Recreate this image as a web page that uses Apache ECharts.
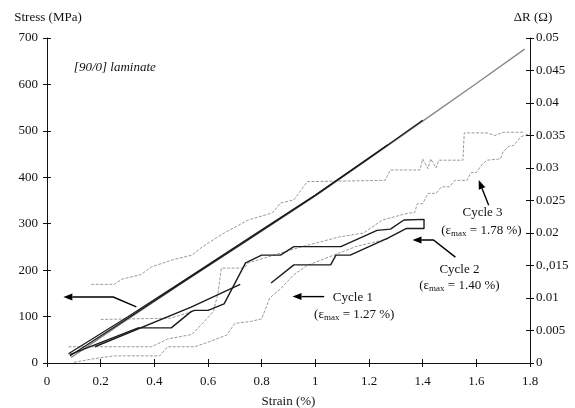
<!DOCTYPE html>
<html>
<head>
<meta charset="utf-8">
<script src="https://cdn.jsdelivr.net/npm/echarts@6.0.0/dist/echarts.min.js"></script>
<style>
  html, body { margin: 0; padding: 0; background: #fff; }
  #chart { width: 575px; height: 408px; }
</style>
</head>
<body>
<div id="chart"></div>
<script>
// x ticks / right-axis tick labels (the 0.,015 typo is in the original figure)
const strainTicks = [0, 0.2, 0.4, 0.6, 0.8, 1, 1.2, 1.4, 1.6, 1.8]
const dRTickLabels = ['0', '0.005', '0.01', '0.,015', '0.02', '0.025', '0.03', '0.035', '0.04', '0.045', '0.05']

// stress-strain loading curves [strain %, MPa]
const stressCycle1 = [[0.08, 20], [0.3, 99], [0.5, 174], [0.75, 268], [1.0, 362], [1.27, 470]]
const stressCycle2 = [[0.085, 15], [0.3, 96], [0.5, 172], [0.75, 266], [1.0, 361], [1.2, 441], [1.4, 523]]
const stressCycle3 = [[0.09, 12], [0.3, 94], [0.5, 171], [0.75, 265], [1.0, 360], [1.2, 440], [1.4, 521], [1.6, 602], [1.78, 676]]

// resistance change curves [strain %, ohm]
const dRCycle2 = [[0.085, 0.0013], [0.34, 0.0054], [0.463, 0.0054], [0.537, 0.0079], [0.55, 0.0081], [0.6, 0.0081],
  [0.66, 0.0091], [0.74, 0.0154], [0.8, 0.0166], [0.87, 0.0166], [0.92, 0.0179], [1.095, 0.0179], [1.23, 0.0204],
  [1.28, 0.0206], [1.33, 0.022], [1.405, 0.0221], [1.405, 0.0207], [1.34, 0.0207], [1.27, 0.0192], [1.13, 0.0166],
  [1.077, 0.0166], [1.057, 0.0151], [0.92, 0.0151], [0.835, 0.0123]]
const dRCycle2b = [[0.178, 0.0025], [0.537, 0.0086], [0.72, 0.0121]]
const dRUpper = [[0.165, 0.0121], [0.25, 0.0121], [0.28, 0.0129], [0.35, 0.0136], [0.39, 0.0148], [0.47, 0.0159],
  [0.54, 0.0166], [0.58, 0.0179], [0.66, 0.02], [0.75, 0.022], [0.84, 0.0231], [0.87, 0.0246], [0.92, 0.0251],
  [0.97, 0.0279], [1.26, 0.0281], [1.28, 0.0297], [1.39, 0.0297], [1.4, 0.0314], [1.42, 0.0299], [1.43, 0.0314],
  [1.45, 0.03], [1.46, 0.0312], [1.55, 0.0312], [1.555, 0.0354], [1.64, 0.0354], [1.67, 0.035], [1.7, 0.0355], [1.78, 0.0355]]
const dRCycle3 = [[0.08, 0.0025], [0.39, 0.0025], [0.45, 0.0037], [0.54, 0.0044], [0.575, 0.0059], [0.62, 0.0079],
  [0.637, 0.0107], [0.65, 0.0146], [0.735, 0.0146], [0.75, 0.0154], [0.87, 0.0169], [0.95, 0.0179], [1.09, 0.0194],
  [1.18, 0.02], [1.25, 0.022], [1.35, 0.0231], [1.37, 0.0231], [1.38, 0.0245], [1.4, 0.0245], [1.42, 0.0261],
  [1.45, 0.0261], [1.47, 0.0271], [1.5, 0.0271], [1.52, 0.0281], [1.565, 0.0281], [1.58, 0.0293], [1.6, 0.0293],
  [1.62, 0.0305], [1.64, 0.0312], [1.69, 0.0314], [1.7, 0.0325], [1.72, 0.0333], [1.74, 0.0335], [1.765, 0.0348], [1.8, 0.0353]]
const dRCycle1 = [[0.1, 0.0001], [0.18, 0.0007], [0.25, 0.0011], [0.42, 0.0011], [0.45, 0.0025], [0.55, 0.0025],
  [0.6, 0.0032], [0.67, 0.0043], [0.7, 0.0061], [0.76, 0.0064], [0.8, 0.0068], [0.83, 0.01], [0.87, 0.0114],
  [0.92, 0.0136], [0.97, 0.015], [1.05, 0.0163], [1.15, 0.0179], [1.27, 0.0191]]
const dRFlat = [[0.2, 0.0067], [0.46, 0.0069], [0.5, 0.0074], [0.55, 0.008]]

const chart = echarts.init(document.getElementById('chart'), null, { renderer: 'canvas' })

const FONT = 'Liberation Serif'
const black = '#1c1c1c'
const grey = '#9a9a9a'

const lineSeries = (name, data, yIdx, color, width, type) => ({
  name, type: 'line', data, yAxisIndex: yIdx, showSymbol: false, symbol: 'none',
  lineStyle: { color, width, type: type || 'solid' }, silent: true, animation: false, z: color === black ? 3 : 2
})

const labelStyle = { fontFamily: FONT, fontSize: 13, color: '#111' }
const axisLine = { show: true, onZero: false, lineStyle: { color: '#111', width: 1 } }

const option = {
  animation: false,
  grid: { left: 47, right: 45, top: 38, bottom: 45, containLabel: false, outerBoundsMode: 'none' },
  xAxis: [
    {
      type: 'value', min: 0, max: 1.8, interval: 0.2, position: 'bottom',
      axisLine, axisTick: { show: true, inside: false, length: 4, lineStyle: { color: '#111' } },
      axisLabel: { ...labelStyle, margin: 12, formatter: v => String(+v.toFixed(1)) },
      splitLine: { show: false },
      name: 'Strain (%)', nameLocation: 'middle', nameGap: 32, nameTextStyle: { ...labelStyle }
    },
    {
      type: 'value', min: 0, max: 1.8, interval: 0.2, position: 'bottom',
      axisLine: { show: false, onZero: false }, axisTick: { show: true, inside: true, length: 4, lineStyle: { color: '#111' } },
      axisLabel: { show: false }, splitLine: { show: false }
    }
  ],
  yAxis: [
    {
      type: 'value', min: 0, max: 700, interval: 100, position: 'left',
      axisLine, axisTick: { show: true, inside: false, length: 4, lineStyle: { color: '#111' } },
      axisLabel: { ...labelStyle, margin: 9 }, splitLine: { show: false }
    },
    {
      type: 'value', min: 0, max: 0.05, interval: 0.005, position: 'right',
      axisLine, axisTick: { show: true, inside: false, length: 4, lineStyle: { color: '#111' } },
      axisLabel: { ...labelStyle, margin: 6, formatter: v => dRTickLabels[Math.round(v / 0.005)] },
      splitLine: { show: false }
    },
    {
      type: 'value', min: 0, max: 700, interval: 100, position: 'left',
      axisLine: { show: false, onZero: false }, axisTick: { show: true, inside: true, length: 4, lineStyle: { color: '#111' } },
      axisLabel: { show: false }, splitLine: { show: false }
    },
    {
      type: 'value', min: 0, max: 0.05, interval: 0.005, position: 'right',
      axisLine: { show: false, onZero: false }, axisTick: { show: true, inside: true, length: 4, lineStyle: { color: '#111' } },
      axisLabel: { show: false }, splitLine: { show: false }
    }
  ],
  series: [
    lineSeries('dR flat', dRFlat, 1, grey, 1, [3, 1.5]),
    lineSeries('dR cycle 1', dRCycle1, 1, grey, 1, [3, 1.5]),
    lineSeries('dR cycle 3', dRCycle3, 1, grey, 1, [3, 1.5]),
    lineSeries('dR upper', dRUpper, 1, grey, 1, [3, 1.5]),
    lineSeries('stress cycle 3', stressCycle3, 0, '#858585', 1.3),
    lineSeries('stress cycle 1', stressCycle1, 0, black, 1.3),
    lineSeries('stress cycle 2', stressCycle2, 0, black, 1.3),
    lineSeries('dR cycle 2', dRCycle2, 1, black, 1.4),
    lineSeries('dR cycle 2b', dRCycle2b, 1, black, 1.4)
  ]
}
chart.setOption(option)

// annotations placed in data units (strain, MPa) and converted to pixels
const px = p => chart.convertToPixel({ xAxisIndex: 0, yAxisIndex: 0 }, p)

const arrows = [
  [[0.333, 121], [0.247, 142], [0.061, 142]],
  [[1.033, 143], [0.915, 143]],
  [[1.522, 228], [1.44, 265], [1.362, 265]],
  [[1.646, 340], [1.609, 394]]
]
const notes = [
  { text: 'Cycle 1', at: [1.14, 141] },
  { text: '(ε{s|max} = 1.27 %)', at: [1.145, 105] },
  { text: 'Cycle 2', at: [1.537, 202] },
  { text: '(ε{s|max} = 1.40 %)', at: [1.537, 166] },
  { text: 'Cycle 3', at: [1.623, 323] },
  { text: '(ε{s|max} = 1.78 %)', at: [1.619, 286] }
]

const graphic = []
arrows.forEach(pts => {
  const p = pts.map(px)
  const a = p[p.length - 2], b = p[p.length - 1]
  const ang = Math.atan2(b[1] - a[1], b[0] - a[0])
  const L = 9, W = 3.5
  const base = [b[0] - L * Math.cos(ang), b[1] - L * Math.sin(ang)]
  const line = p.slice(0, -1).concat([base])
  graphic.push({ type: 'polyline', shape: { points: line }, style: { stroke: '#000', lineWidth: 1.4, fill: null }, silent: true })
  graphic.push({
    type: 'polygon', silent: true,
    shape: { points: [b, [base[0] + W * Math.sin(ang), base[1] - W * Math.cos(ang)], [base[0] - W * Math.sin(ang), base[1] + W * Math.cos(ang)]] },
    style: { fill: '#000' }
  })
})
notes.forEach(n => {
  const p = px(n.at)
  graphic.push({
    type: 'text', x: p[0], y: p[1], silent: true,
    style: {
      text: n.text, fontFamily: FONT, fontSize: 13, fill: '#111', align: 'center', verticalAlign: 'middle',
      rich: { s: { fontFamily: FONT, fontSize: 9, fill: '#111', padding: [6, 0, 0, 0] } }
    }
  })
})
graphic.push(
  { type: 'text', x: 48, y: 18, silent: true, style: { text: 'Stress (MPa)', fontFamily: FONT, fontSize: 13, fill: '#111', align: 'center', verticalAlign: 'middle' } },
  { type: 'text', x: 533, y: 18, silent: true, style: { text: 'ΔR (Ω)', fontFamily: FONT, fontSize: 13, fill: '#111', align: 'center', verticalAlign: 'middle' } }
)
const lam = px([0.1, 637])
graphic.push({ type: 'text', x: lam[0], y: lam[1], silent: true, style: { text: '[90/0] laminate', fontFamily: FONT, fontStyle: 'italic', fontSize: 13, fill: '#111', verticalAlign: 'middle' } })

chart.setOption({ graphic })
</script>
</body>
</html>
